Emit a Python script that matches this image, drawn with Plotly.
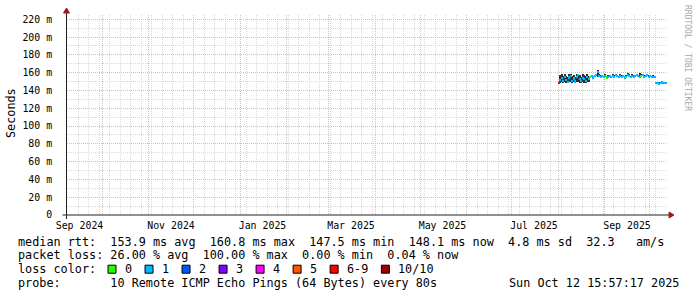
import pandas as pd
import plotly.graph_objects as go

# ---------------- data ----------------
range_start = "2024-09-07 15:57:17"
range_end = "2025-10-12 15:57:17"
first_day = "2025-08-01"

median_ms = [
    148.5, 152.0, 154.0, 150.5, 155.0, 151.5, 149.5, 154.5, 156.0, 151.0,
    153.5, 150.0, 155.5, 157.0, 152.5, 150.5, 154.0, 153.0, 151.0, 155.5,
    152.5, 155.0, 156.0, 154.5, 156.0, 157.0, 160.8, 156.5, 155.5, 156.0,
    155.0,
    156.5, 154.5, 155.5, 156.0, 155.0, 156.5, 155.5, 157.0, 156.0, 155.0,
    156.5, 155.5, 156.0, 154.5, 155.5, 157.0, 156.0, 155.0, 156.5, 155.5,
    156.0, 157.5, 156.0, 155.0, 156.5, 157.0, 155.5, 156.0, 157.0, 155.5,
    156.0, 155.0, 155.5, 155.0, 148.5, 148.0, 147.5, 148.5, 149.0, 148.0,
    148.5, 148.1,
]
loss_count = [
    7, 1, 1, 1, 1, 1, 1, 1, 1, 1,
    1, 1, 1, 1, 1, 1, 1, 1, 1, 1,
    1, 0, 1, 1, 1, 1, 1, 1, 1, 1,
    1,
    1, 0, 1, 1, 1, 1, 1, 1, 1, 1,
    1, 1, 1, 1, 0, 1, 1, 1, 1, 1,
    1, 1, 1, 1, 0, 1, 1, 1, 1, 1,
    1, 1, 1, 1, 1, 1, 1, 1, 1, 1,
    1, 1,
]
smoke_lo_ms = [
    147.5, 148.5, 149.0, 148.0, 149.5, 148.5, 148.0, 149.0, 150.0, 148.0,
    149.0, 148.0, 149.5, 150.0, 148.5, 148.0, 149.0, 148.5, 148.0, 149.5,
    149.0, 154.0, 155.0, 153.5, 155.0, 156.0, 155.5, 155.5, 154.5, 155.0,
    154.0,
    155.5, 153.5, 154.5, 155.0, 154.0, 155.5, 154.5, 156.0, 155.0, 154.0,
    155.5, 154.5, 155.0, 153.5, 154.5, 156.0, 155.0, 154.0, 155.5, 154.5,
    155.0, 156.5, 155.0, 154.0, 155.5, 156.0, 154.5, 155.0, 156.0, 154.5,
    155.0, 154.0, 154.5, 154.0, 147.5, 147.0, 146.5, 147.5, 148.0, 147.0,
    147.5, 147.0,
]
smoke_hi_ms = [
    150.0, 157.0, 158.0, 156.0, 158.5, 156.5, 155.0, 158.0, 159.0, 156.0,
    157.5, 155.5, 158.5, 159.0, 157.0, 155.5, 158.0, 157.0, 156.0, 158.0,
    156.5, 156.5, 157.5, 156.0, 157.5, 158.5, 162.5, 158.0, 157.0, 157.5,
    156.5,
    158.0, 156.0, 157.0, 157.5, 156.5, 158.0, 157.0, 158.5, 157.5, 156.5,
    158.0, 157.0, 157.5, 156.0, 157.0, 159.5, 158.0, 156.5, 158.0, 157.0,
    157.5, 159.0, 157.5, 160.0, 158.0, 158.5, 157.0, 157.5, 158.5, 157.0,
    157.5, 156.5, 157.0, 156.5, 150.0, 149.5, 149.0, 150.0, 150.5, 149.5,
    150.0, 149.5,
]

loss_labels = ["0", "1", "2", "3", "4", "5", "6-9", "10/10"]
loss_colors = ["#26ff00", "#00b8ff", "#0059ff", "#7e00ff", "#ff00ff",
               "#ff5500", "#ff0000", "#a10000"]

y_tick_values = [0, 0.02, 0.04, 0.06, 0.08, 0.10, 0.12, 0.14, 0.16, 0.18, 0.20, 0.22]
y_tick_labels = ["0", "20 m", "40 m", "60 m", "80 m", "100 m", "120 m",
                 "140 m", "160 m", "180 m", "200 m", "220 m"]

x_label_months = ["2024-09-01", "2024-11-01", "2025-01-01", "2025-03-01",
                  "2025-05-01", "2025-07-01", "2025-09-01"]
x_label_text = ["Sep 2024", "Nov 2024", "Jan 2025", "Mar 2025",
                "May 2025", "Jul 2025", "Sep 2025"]

legend_rtt = "median rtt:  153.9 ms avg  160.8 ms max  147.5 ms min  148.1 ms now  4.8 ms sd  32.3   am/s"
legend_loss = "packet loss: 26.00 % avg  100.00 % max  0.00 % min  0.04 % now"
legend_color = "loss color:"
legend_probe = "probe:       10 Remote ICMP Echo Pings (64 Bytes) every 80s"
stamp = "Sun Oct 12 15:57:17 2025"
watermark = "RRDTOOL / TOBI OETIKER"

# ---------------- build ----------------
DAY_MS = 86400000
days = pd.date_range(first_day, periods=len(median_ms), freq="D")
centers = days + pd.Timedelta(hours=12)


def loss_cat(n):
    if n <= 5:
        return n
    if n <= 9:
        return 6
    return 7


med_s = [v / 1000 for v in median_ms]
lo_s = [v / 1000 for v in smoke_lo_ms]
hi_s = [v / 1000 for v in smoke_hi_ms]
thick = 0.0026
bar_colors = [loss_colors[loss_cat(n)] for n in loss_count]

MONO = "DejaVu Sans Mono"
L, R, T, B = 67, 30, 15, 82
W, H = 697, 297
PW, PH = W - L - R, H - T - B


def px(x):
    return (x - L) / PW


def py(y):
    return (T + PH - y) / PH


fig = go.Figure()
# smoke on the main x axis (carries the grid)
fig.add_trace(go.Bar(
    x=centers, y=[h - l for h, l in zip(hi_s, lo_s)], base=lo_s,
    width=DAY_MS, marker=dict(color="#303030", line=dict(width=0)),
    xaxis="x", yaxis="y",
    hoverinfo="skip", showlegend=False))
# median on the overlaid x axis (carries the month labels)
fig.add_trace(go.Bar(
    x=centers, y=[thick] * len(med_s), base=[m - thick / 2 for m in med_s],
    width=DAY_MS, marker=dict(color=bar_colors, line=dict(width=0)),
    xaxis="x2", yaxis="y",
    hoverinfo="skip", showlegend=False))

label_pos = [(pd.Timestamp(m) + pd.Timedelta(days=15)).strftime("%Y-%m-%d")
             for m in x_label_months]

major_grid = "#f3b0b0"
minor_grid = "#dadada"
dash = "1px,1px"

fig.update_layout(
    width=W, height=H,
    margin=dict(l=L, r=R, t=T, b=B, pad=0),
    paper_bgcolor="white", plot_bgcolor="white",
    barmode="overlay", bargap=0, showlegend=False,
    font=dict(family=MONO, color="#000000"),
    xaxis=dict(
        type="date", range=[range_start, range_end],
        tickmode="linear", tick0="2024-09-01", dtick="M1",
        showticklabels=False, ticks="",
        showgrid=True, gridcolor=major_grid, griddash=dash, gridwidth=1,
        zeroline=False, showline=False,
        minor=dict(tickmode="linear", tick0="2024-09-08", dtick=7 * DAY_MS,
                   showgrid=True, gridcolor=minor_grid, griddash=dash,
                   gridwidth=1, ticks=""),
    ),
    xaxis2=dict(
        type="date", range=[range_start, range_end], overlaying="x",
        anchor="y", side="bottom",
        tickmode="array", tickvals=label_pos, ticktext=x_label_text,
        showgrid=False, ticks="", zeroline=False, showline=False,
        tickfont=dict(family=MONO, size=9.9, color="#000000"),
        ticklabelstandoff=3,
    ),
    yaxis=dict(
        range=[0, 0.2248],
        tickmode="array", tickvals=y_tick_values,
        ticktext=[t if " " in t else t + "\u00a0\u00a0" for t in
                  [s.replace(" ", "\u00a0") for s in y_tick_labels]],
        showgrid=True, gridcolor=major_grid, griddash=dash, gridwidth=1,
        zeroline=False, showline=False, ticks="",
        tickfont=dict(family=MONO, size=9.9, color="#000000"),
        ticklabelstandoff=2,
        minor=dict(tickmode="linear", tick0=0.01, dtick=0.02, showgrid=True,
                   gridcolor=minor_grid, griddash=dash, gridwidth=1, ticks=""),
    ),
)

shapes = []
axis_col = "#202020"
arrow_col = "#9b1c1c"
x0 = L - 0.5
# axis lines
shapes.append(dict(type="line", xref="paper", yref="paper",
                   x0=px(x0 - 4), x1=px(L + PW + 4), y0=py(T + PH), y1=py(T + PH),
                   line=dict(color=axis_col, width=1), layer="above"))
shapes.append(dict(type="line", xref="paper", yref="paper",
                   x0=px(x0), x1=px(x0), y0=py(T + PH + 4), y1=py(T - 4),
                   line=dict(color=axis_col, width=1), layer="above"))
# arrows
ax_r = L + PW + 2
yb = T + PH
shapes.append(dict(type="path", xref="paper", yref="paper",
                   path=f"M {px(ax_r)},{py(yb - 3)} L {px(ax_r)},{py(yb + 3)} L {px(ax_r + 5)},{py(yb)} Z",
                   fillcolor=arrow_col, line=dict(color=arrow_col, width=1), layer="above"))
shapes.append(dict(type="path", xref="paper", yref="paper",
                   path=f"M {px(x0 - 3)},{py(T - 2)} L {px(x0 + 3)},{py(T - 2)} L {px(x0)},{py(T - 7)} Z",
                   fillcolor=arrow_col, line=dict(color=arrow_col, width=1), layer="above"))

annotations = []
CW = 7.12
LX = 16
FS = 11.8
rows = [241.5, 255.3, 269.2, 283.0]


def text_ann(txt, x, y, anchor="left", size=FS, angle=0, color="#000000", yanchor="middle"):
    return dict(text=txt.replace(" ", "\u00a0"), xref="paper", yref="paper",
                x=px(x), y=py(y), xanchor=anchor, yanchor=yanchor,
                showarrow=False, textangle=angle,
                font=dict(family=MONO, size=size, color=color))


annotations.append(text_ann(legend_rtt, LX, rows[0]))
annotations.append(text_ann(legend_loss, LX, rows[1]))
annotations.append(text_ann(legend_color, LX, rows[2]))
annotations.append(text_ann(legend_probe, LX, rows[3]))
annotations.append(text_ann(stamp, 681, rows[3], anchor="right"))
annotations.append(text_ann("Seconds", 11, 113, anchor="center", angle=-90))
annotations.append(text_ann(watermark, 687, 58, anchor="center", size=8,
                            angle=90, color="#a8a8a8"))

bx = 108.0
for lab, col in zip(loss_labels, loss_colors):
    shapes.append(dict(type="rect", xref="paper", yref="paper",
                       x0=px(bx), x1=px(bx + 8), y0=py(rows[2] + 4), y1=py(rows[2] - 4),
                       fillcolor=col, line=dict(color="#000000", width=1), layer="above"))
    annotations.append(text_ann(lab, bx + 15, rows[2]))
    bx = bx + 15 + len(lab) * CW + 14.9

fig.update_layout(shapes=shapes, annotations=annotations)
fig.write_html("out.html")
